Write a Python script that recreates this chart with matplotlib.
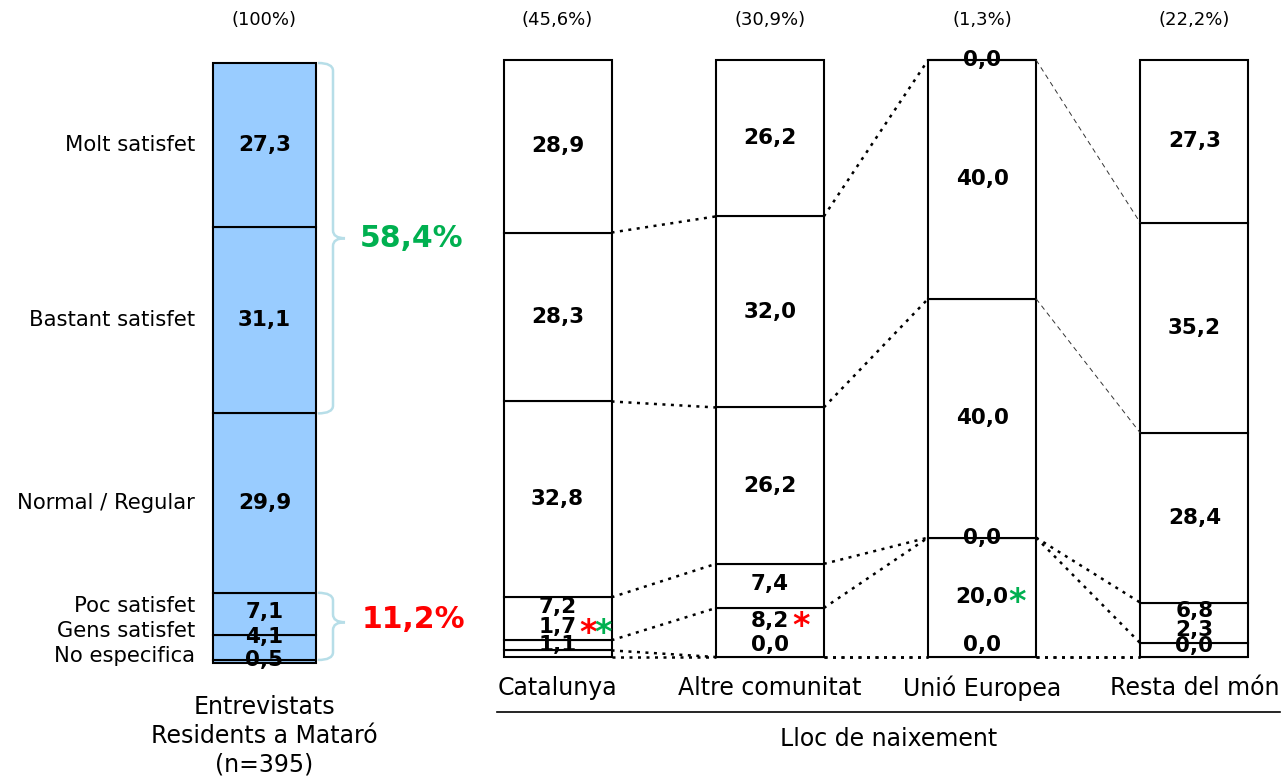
import matplotlib
matplotlib.use("Agg")
import matplotlib.pyplot as plt
from matplotlib.path import Path
from matplotlib.patches import PathPatch
import numpy as np

# categories, top to bottom
cats = ['Molt satisfet', 'Bastant satisfet', 'Normal / Regular',
        'Poc satisfet', 'Gens satisfet', 'No especifica']
total = [27.3, 31.1, 29.9, 7.1, 4.1, 0.5]

groups = ['Catalunya', 'Altre comunitat', 'Unió Europea', 'Resta del món']
shares = [45.6, 30.9, 1.3, 22.2]
catalunya = [28.9, 28.3, 32.8, 7.2, 1.7, 1.1]
altre = [26.2, 32.0, 26.2, 7.4, 8.2, 0.0]
ue = [0.0, 40.0, 40.0, 0.0, 20.0, 0.0]
resta = [27.3, 35.2, 28.4, 6.8, 2.3, 0.0]
group_vals = [catalunya, altre, ue, resta]
n_total = 395

# label y positions for thin segments (None = middle of segment)
total_lab_y = [None, None, None, 8.5, 4.3, 0.5]
cat_lab_y = [None, None, None, 9.5, 5.3, 1.2]
group_lab_y = [[None, None, None, 8.4, 5.0, 2.0],
               [None, None, None, 12.2, 6.0, 2.0],
               [100.0, None, None, 20.0, None, 2.0],
               [None, None, None, 7.7, 4.5, 1.8]]

GREEN = '#00B050'
RED = '#FF0000'
BRACE = '#B7DEE8'
FONT = 'DejaVu Sans'


def fmt(v):
    return f"{v:.1f}".replace('.', ',')


def stack(vals):
    # bottoms from the bottom of the bar (vals are listed top to bottom)
    v = np.array(vals[::-1])
    bottoms = np.concatenate([[0], np.cumsum(v)[:-1]])
    return v, bottoms


fig = plt.figure(figsize=(12.82, 7.76), dpi=100)
W, H = 1282, 776

# ---- total bar ----
ax1 = fig.add_axes([0, (H - 663) / H, 450 / W, 600 / H])
ax1.set_xlim(-264.5 / 103, (450 - 264.5) / 103)
ax1.set_ylim(0, 100)
ax1.axis('off')

v, b = stack(total)
ax1.bar(0, v, bottom=b, width=1.0, color='#99CCFF', edgecolor='black', linewidth=1.5,
        clip_on=False)
mids = (b + v / 2)[::-1]
for i, val in enumerate(total):
    y = mids[i] if total_lab_y[i] is None else total_lab_y[i]
    ax1.text(0, y, fmt(val), ha='center', va='center', fontsize=15.5,
             fontweight='bold', family=FONT)
    ly = mids[i] if cat_lab_y[i] is None else cat_lab_y[i]
    ax1.text(-0.675, ly, cats[i], ha='right', va='center', fontsize=15.2, family=FONT)

ax1.text(0, 107.2, '(100%)', ha='center', va='center', fontsize=13, family=FONT)
for k, line in enumerate(['Entrevistats', 'Residents a Mataró', f'(n={n_total})']):
    ax1.text(0, -7.33 - 4.83 * k, line, ha='center', va='center', fontsize=17,
             family=FONT)


def brace(ax, x0, x1, x2, ylo, yhi, ytip, r):
    verts = [(x0, yhi), (x1, yhi), (x1, yhi - r),
             (x1, ytip + r), (x1, ytip), (x2, ytip),
             (x1, ytip), (x1, ytip - r),
             (x1, ylo + r), (x1, ylo), (x0, ylo)]
    codes = [Path.MOVETO, Path.CURVE3, Path.CURVE3,
             Path.LINETO, Path.CURVE3, Path.CURVE3,
             Path.CURVE3, Path.CURVE3,
             Path.LINETO, Path.CURVE3, Path.CURVE3]
    ax.add_patch(PathPatch(Path(verts, codes), facecolor='none', edgecolor=BRACE,
                           linewidth=1.8, clip_on=False))


cum = np.cumsum(total[::-1])  # from the bottom
pos = total[0] + total[1]
neg = total[3] + total[4]
bx0, bx1, bx2 = (318 - 264.5) / 103, (333 - 264.5) / 103, (345 - 264.5) / 103
brace(ax1, bx0, bx1, bx2, 100 - pos, 100, 100 - pos / 2, 1.3)
brace(ax1, bx0, bx1, bx2, cum[0], cum[2], 6.8, 1.3)
ax1.text((360 - 264.5) / 103, 100 - pos / 2, fmt(pos) + '%', ha='left', va='center',
         color=GREEN, fontsize=21.5, fontweight='bold', family=FONT)
ax1.text((362 - 264.5) / 103, 7.3, fmt(neg) + '%', ha='left', va='center',
         color=RED, fontsize=21.5, fontweight='bold', family=FONT)

# ---- bars by place of birth ----
ax2 = fig.add_axes([450 / W, (H - 657) / H, (W - 450) / W, 597 / H])
step = 212.3
ax2.set_xlim(-107.5 / step, (W - 557.5) / step)
ax2.set_ylim(0, 100)
ax2.axis('off')
bw = 108 / step

tops = []
for g, vals in enumerate(group_vals):
    v, b = stack(vals)
    ax2.bar(g, v, bottom=b, width=bw, color='white', edgecolor='black', linewidth=1.5,
            clip_on=False)
    mids = (b + v / 2)[::-1]
    for i, val in enumerate(vals):
        y = mids[i] if group_lab_y[g][i] is None else group_lab_y[g][i]
        ax2.text(g, y, fmt(val), ha='center', va='center', fontsize=15.5,
                 fontweight='bold', family=FONT, zorder=5)
    ax2.text(g, 106.7, '(' + fmt(shares[g]) + '%)', ha='center', va='center',
             fontsize=13, family=FONT)
    ax2.text(g, -5.2, groups[g], ha='center', va='center', fontsize=17, family=FONT)
    tops.append(b)

# connectors between neighbouring bars
for g in range(len(groups) - 1):
    for k in range(len(cats)):
        y0, y1 = tops[g][k], tops[g + 1][k]
        if g == 2 and k >= 4:
            ax2.plot([g + bw / 2, g + 1 - bw / 2], [y0, y1], color='#333333',
                     linewidth=0.7, linestyle=(0, (5, 4)), clip_on=False)
        else:
            ax2.plot([g + bw / 2, g + 1 - bw / 2], [y0, y1], color='black',
                     linewidth=1.8, linestyle=(0, (1.2, 2.2)), clip_on=False)

# significance marks
star = dict(ha='center', va='baseline', fontsize=24, fontweight='bold', family=FONT)
ax2.text(0 + 0.144, 2.3, '*', color=RED, **star)
ax2.text(0 + 0.214, 2.3, '*', color=GREEN, **star)
ax2.text(1 + 0.146, 3.6, '*', color=RED, **star)
ax2.text(2 + 0.165, 7.5, '*', color=GREEN, **star)

lx0, lx1 = (497 - 557.5) / step, (1280 - 557.5) / step
ax2.plot([lx0, lx1], [-9.2, -9.2], color='black', linewidth=1.2, clip_on=False)
ax2.text((lx0 + lx1) / 2, -13.7, 'Lloc de naixement', ha='center', va='center',
         fontsize=17, family=FONT)

fig.savefig('out.png', dpi=100)
